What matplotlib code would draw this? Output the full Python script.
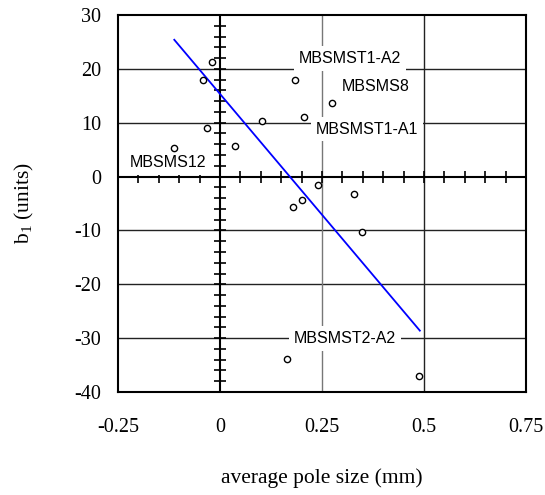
import numpy as np
import matplotlib
matplotlib.use('Agg')
import matplotlib.pyplot as plt

# 測定点 (平均ポールサイズ, b1)
pole_size = [-0.020, -0.041, 0.184, 0.275, 0.102, 0.207, -0.032, -0.113,
             0.038, 0.241, 0.202, 0.178, 0.165, 0.329, 0.347, 0.489]
b1 = [21.2, 17.9, 18.0, 13.6, 10.3, 11.0, 9.1, 5.4,
      5.6, -1.5, -4.3, -5.7, -33.9, -3.3, -10.3, -37.1]

# 回帰直線の両端
fit_x = [-0.112, 0.490]
fit_y = [25.4, -28.6]

# ラベル
labels = ['MBSMST1-A2', 'MBSMS8', 'MBSMST1-A1', 'MBSMS12', 'MBSMST2-A2']
label_x = [0.319, 0.381, 0.360, -0.128, 0.306]
label_y = [21.9, 16.8, 8.8, 2.6, -30.1]

x_ticks = [-0.25, 0, 0.25, 0.5, 0.75]
x_ticklabels = ['-0.25', '0', '0.25', '0.5', '0.75']
y_ticks = [-40, -30, -20, -10, 0, 10, 20, 30]

plt.rcParams['mathtext.fontset'] = 'custom'
plt.rcParams['mathtext.rm'] = 'Liberation Serif'
serif = ['Liberation Serif', 'DejaVu Serif']
sans = ['Liberation Sans', 'DejaVu Sans']

fig = plt.figure(figsize=(5.45, 4.95), dpi=100)
ax = fig.add_axes([0.2165, 0.208, 0.7485, 0.7617])
ax.set_xlim(-0.25, 0.75)
ax.set_ylim(-40, 30)

# グリッド
for y in [-30, -20, -10, 10, 20]:
    ax.axhline(y, color='#222222', lw=1, zorder=1)
ax.axvline(0.25, color='#777777', lw=1, zorder=1)
ax.axvline(0.5, color='#222222', lw=1, zorder=1)

# 原点を通る軸と十字の目盛り
ax.axhline(0, color='black', lw=1.5, zorder=2)
ax.axvline(0, color='black', lw=1.5, zorder=2)
yt = np.arange(-38, 30, 2)
ax.plot(np.zeros(len(yt)), yt, ls='none', marker='_', ms=9, mew=1.2,
        color='black', zorder=2)
xt = np.arange(-0.25, 0.751, 0.05)
ax.plot(xt, np.zeros(len(xt)), ls='none', marker='|', ms=9, mew=1.2,
        color='black', zorder=2)

# データ
ax.plot(fit_x, fit_y, color='#0000ff', lw=1.3, zorder=4)
ax.plot(pole_size, b1, ls='none', marker='o', ms=4.5, mfc='white',
        mec='black', mew=1, zorder=5)

for t, lx, ly in zip(labels, label_x, label_y):
    ax.text(lx, ly, t, ha='center', va='center', fontsize=11.5,
            family=sans, zorder=3,
            bbox=dict(facecolor='white', edgecolor='none', pad=3.5))

for s in ax.spines.values():
    s.set_linewidth(1.5)
    s.set_color('black')

ax.set_xticks(x_ticks)
ax.set_xticklabels(x_ticklabels, family=serif, fontsize=14.5)
ax.set_yticks(y_ticks)
ax.set_yticklabels([str(v) for v in y_ticks], family=serif, fontsize=14.5)
ax.tick_params(axis='x', length=0, pad=19)
ax.tick_params(axis='y', length=0, pad=12)

ax.set_xlabel('average pole size (mm)', family=serif, fontsize=15.5, labelpad=22)
ax.set_ylabel(r'$\mathrm{b}_1$ (units)', family=serif, fontsize=15.5, labelpad=28)

fig.savefig('out.png', dpi=100)
